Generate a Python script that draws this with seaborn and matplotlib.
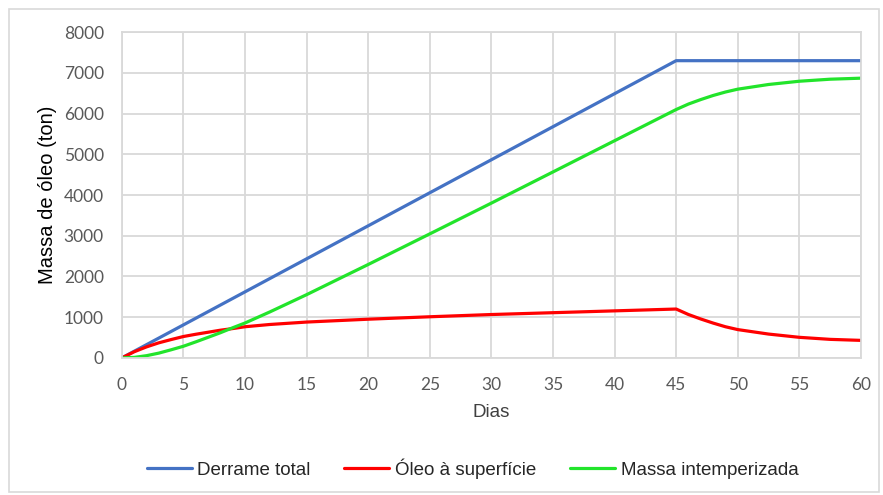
import matplotlib
matplotlib.use("Agg")
import matplotlib.pyplot as plt
from matplotlib.patches import Rectangle
import seaborn as sns

# dias e massas (ton)
dias_total = [0, 45, 60]
derrame_total = [0, 7300, 7300]

dias = [0, 1, 2, 3, 4, 5, 6, 7, 8, 9, 10, 12, 15, 17.5, 20, 25, 30, 35, 40, 45,
        46, 47, 48, 49, 50, 52.5, 55, 57.5, 60]
oleo_superficie = [0, 150, 270, 370, 450, 525, 580, 630, 680, 720, 765, 820, 880, 915,
                   950, 1010, 1065, 1110, 1155, 1200, 1065, 955, 855, 765, 695, 585, 505,
                   455, 430]
massa_intemperizada = [0, 12, 54, 117, 199, 286, 393, 505, 618, 740, 857, 1127, 1553, 1924,
                       2294, 3046, 3802, 4567, 5334, 6100, 6235, 6345, 6445, 6530, 6600, 6715,
                       6795, 6845, 6870]

x_ticks = list(range(0, 61, 5))
y_ticks = list(range(0, 8001, 1000))

sns.set_style("white")
plt.rcParams["font.family"] = ["Liberation Sans", "DejaVu Sans"]

fig = plt.figure(figsize=(8.83, 4.95), dpi=100)
ax = fig.add_axes([0.138, 0.277, 0.837, 0.658])

sns.lineplot(x=dias_total, y=derrame_total, ax=ax, color="#4472C4", linewidth=2.3,
             label="Derrame total")
sns.lineplot(x=dias, y=oleo_superficie, ax=ax, color="#FF0000", linewidth=2.3,
             label="Óleo à superfície")
sns.lineplot(x=dias, y=massa_intemperizada, ax=ax, color="#22E42B", linewidth=2.3,
             label="Massa intemperizada")

ax.set_xlim(0, 60)
ax.set_ylim(0, 8000)
ax.set_xticks(x_ticks)
ax.set_yticks(y_ticks)
ax.grid(True, color="#D9D9D9", linewidth=1.3)
for s in ax.spines.values():
    s.set_color("#D9D9D9")
    s.set_linewidth(1.3)
ax.tick_params(length=0, labelsize=12.5, labelcolor="#595959")
ax.tick_params(axis="x", pad=14)
ax.tick_params(axis="y", pad=13)
for lab in ax.get_xticklabels() + ax.get_yticklabels():
    lab.set_family(["Lato", "DejaVu Sans"])

ax.set_xlabel("Dias", fontsize=13.5, color="#404040", labelpad=8)
ax.set_ylabel("Massa de óleo (ton)", fontsize=14.5, color="black", labelpad=5)

handles, labels = ax.get_legend_handles_labels()
ax.get_legend().remove()
fig.legend(handles, labels, loc="center", bbox_to_anchor=(0.535, 0.054), ncol=3,
           frameon=False, fontsize=13.5, handlelength=2.4, columnspacing=1.8,
           handletextpad=0.3, labelcolor="#262626")

fig.patches.append(Rectangle((0.01, 0.006), 0.985, 0.976, transform=fig.transFigure,
                             fill=False, edgecolor="#D9D9D9", linewidth=1.2))

fig.savefig("out.png", dpi=100)
